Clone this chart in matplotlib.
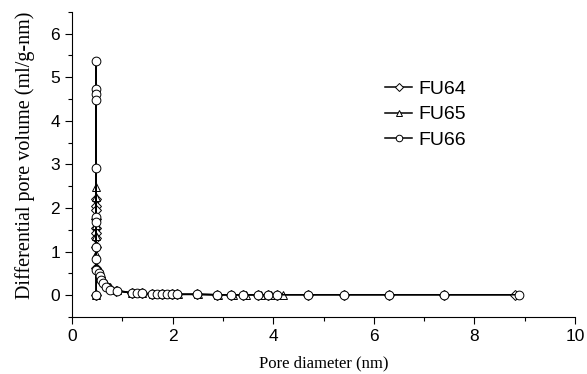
import matplotlib
matplotlib.use("Agg")
import matplotlib.pyplot as plt
from matplotlib.ticker import MultipleLocator

plt.rcParams['font.family'] = ['Liberation Sans', 'DejaVu Sans']

# pore diameter (nm) / differential pore volume (ml/g-nm)
fu64_x = [0.48, 0.48, 0.48, 0.48, 0.48, 0.48, 0.48, 0.48, 0.48, 0.48,
          0.52, 0.56, 0.60, 0.66, 0.74, 0.88, 1.19, 1.39, 1.58, 1.78,
          1.98, 2.08, 2.48, 2.88, 3.17, 3.40, 3.70, 3.90, 4.07, 4.70,
          5.40, 6.30, 7.40, 8.80]
fu64_y = [0.0, 2.20, 2.05, 1.95, 1.75, 1.55, 1.42, 1.30, 1.10, 0.62,
          0.55, 0.42, 0.32, 0.24, 0.17, 0.10, 0.05, 0.04, 0.03, 0.03,
          0.02, 0.02, 0.02, 0.01, 0.01, 0.01, 0.01, 0.01, 0.01, 0.01,
          0.01, 0.01, 0.01, 0.01]

fu65_x = [0.48, 0.48, 0.48, 0.48, 0.48, 0.48, 0.48, 0.48,
          0.53, 0.57, 0.62, 0.68, 0.76, 0.90, 1.20, 1.40, 1.60, 1.80,
          2.00, 2.10, 2.50, 2.90, 3.20, 3.45, 3.75, 3.95, 4.20]
fu65_y = [0.0, 2.48, 2.25, 1.80, 1.60, 1.35, 0.95, 0.65,
          0.58, 0.45, 0.35, 0.26, 0.18, 0.11, 0.05, 0.04, 0.03, 0.03,
          0.02, 0.02, 0.02, 0.01, 0.01, 0.01, 0.01, 0.01, 0.01]

fu66_x = [0.48, 0.48, 0.48, 0.48, 0.48, 0.48, 0.48, 0.48, 0.48, 0.48, 0.48,
          0.54, 0.55, 0.58, 0.62, 0.68, 0.75, 0.89, 1.19, 1.29, 1.39,
          1.58, 1.68, 1.78, 1.88, 1.98, 2.08, 2.48, 2.88, 3.17, 3.40,
          3.70, 3.90, 4.07, 4.70, 5.40, 6.30, 7.40, 8.89]
fu66_y = [0.0, 5.38, 4.73, 4.62, 4.47, 2.92, 1.79, 1.68, 1.10, 0.84, 0.57,
          0.50, 0.45, 0.34, 0.27, 0.19, 0.13, 0.10, 0.05, 0.04, 0.04,
          0.03, 0.03, 0.02, 0.02, 0.02, 0.02, 0.02, 0.01, 0.01, 0.01,
          0.01, 0.01, 0.01, 0.01, 0.01, 0.01, 0.01, 0.01]

fig = plt.figure(figsize=(5.87, 3.74), dpi=100)
ax = fig.add_axes([0.1227, 0.1524, 0.857, 0.8163])

style = dict(color='black', lw=1.1, mfc='white', mec='black', mew=0.7, ms=6.3)
ax.plot(fu64_x, fu64_y, marker='D', label='FU64', **{**style, 'ms': 5.2})
ax.plot(fu65_x, fu65_y, marker='^', label='FU65', **style)
ax.plot(fu66_x, fu66_y, marker='o', label='FU66', **style)

ax.set_xlim(0, 10)
ax.set_ylim(-0.5, 6.5)
ax.xaxis.set_major_locator(MultipleLocator(2))
ax.xaxis.set_minor_locator(MultipleLocator(1))
ax.yaxis.set_major_locator(MultipleLocator(1))
ax.yaxis.set_minor_locator(MultipleLocator(0.5))
ax.tick_params(which='major', length=5, width=0.8, labelsize=12.5, direction='out')
ax.tick_params(which='minor', length=3, width=0.8, direction='out')
ax.spines['top'].set_visible(False)
ax.spines['right'].set_visible(False)

ax.set_xlabel('Pore diameter (nm)', family='Liberation Serif', fontsize=12, labelpad=8)
ax.set_ylabel('Differential pore volume (ml/g-nm)', family='Liberation Serif',
              fontsize=14.5, labelpad=11)
ax.yaxis.label.set_y(0.53)

ax.legend(loc='upper left', bbox_to_anchor=(0.622, 0.775), frameon=False,
          fontsize=14, handlelength=1.4, handletextpad=0.3,
          labelspacing=0.4, markerscale=0.75, borderpad=0, borderaxespad=0)

fig.savefig('out.png', dpi=100)
